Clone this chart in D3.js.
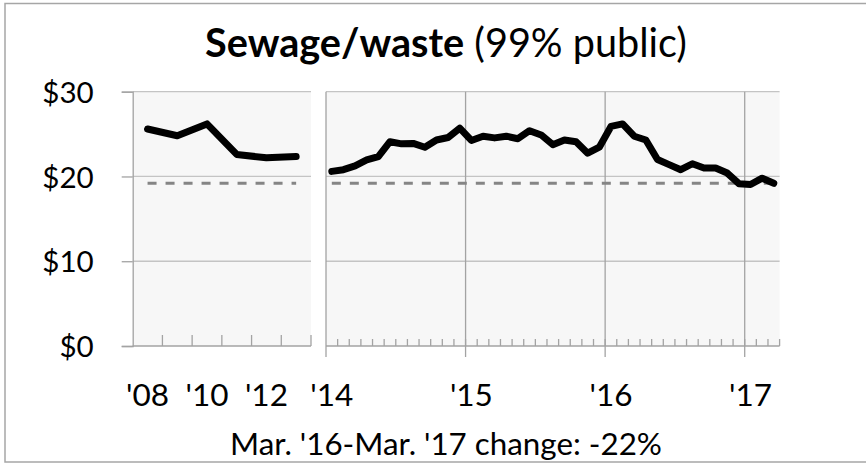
<!DOCTYPE html>
<html>
<head>
<meta charset="utf-8">
<script src="https://cdn.jsdelivr.net/npm/d3@7"></script>
<style>
  body { margin: 0; background: #fff; }
  svg text { font-family: Lato, "Open Sans", sans-serif; fill: #000; }
</style>
</head>
<body>
<div id="chart"></div>
<script>
// annual averages, 2008-2013
const annualYears = [2008, 2009, 2010, 2011, 2012, 2013];
const annualCost = [25.6, 24.8, 26.2, 22.6, 22.2, 22.35];
const annualTickYears = [2008, 2010, 2012];
const annualTickLabels = ["'08", "'10", "'12"];

// monthly, Jan 2014 - Mar 2017
const monthLabels = [
  'Jan 14', 'Feb 14', 'Mar 14', 'Apr 14', 'May 14', 'Jun 14', 'Jul 14', 'Aug 14', 'Sep 14', 'Oct 14', 'Nov 14', 'Dec 14',
  'Jan 15', 'Feb 15', 'Mar 15', 'Apr 15', 'May 15', 'Jun 15', 'Jul 15', 'Aug 15', 'Sep 15', 'Oct 15', 'Nov 15', 'Dec 15',
  'Jan 16', 'Feb 16', 'Mar 16', 'Apr 16', 'May 16', 'Jun 16', 'Jul 16', 'Aug 16', 'Sep 16', 'Oct 16', 'Nov 16', 'Dec 16',
  'Jan 17', 'Feb 17', 'Mar 17'
];
const monthlyCost = [
  20.6, 20.8, 21.25, 21.95, 22.35, 24.1, 23.85, 23.9, 23.45, 24.3, 24.6, 25.7,
  24.25, 24.75, 24.55, 24.75, 24.45, 25.4, 24.9, 23.75, 24.3, 24.1, 22.75, 23.45,
  25.9, 26.2, 24.75, 24.3, 22.0, 21.4, 20.8, 21.5, 21.0, 21.0, 20.4, 19.15,
  19.05, 19.8, 19.2
];
const monthTickKeys = ['Jan 14', 'Jan 15', 'Jan 16', 'Jan 17'];
const monthTickLabels = ["'14", "'15", "'16", "'17"];

const yTicks = [0, 10, 20, 30];
const titleBold = 'Sewage/waste';
const titleRest = ' (99% public)';
const footnote = "Mar. '16-Mar. '17 change: -22%";

// latest value, drawn as dashed reference in both panels
const refValue = monthlyCost[monthlyCost.length - 1];

const width = 866, height = 465;
const gridColor = '#c4c4c4', axisColor = '#a3a3a3', panelFill = '#f7f7f7';

const svg = d3.select('#chart').append('svg')
  .attr('width', width)
  .attr('height', height);

// outer frame (runs past the right edge in the original)
svg.append('rect')
  .attr('x', 5).attr('y', 3.5)
  .attr('width', 900).attr('height', 458.5)
  .attr('fill', '#fff')
  .attr('stroke', '#a6a6a6')
  .attr('stroke-width', 1.5);

const y = d3.scaleLinear().domain([0, 30]).range([346, 91.7]);
const xL = d3.scaleBand().domain(annualYears).range([132.7, 311]);
const xR = d3.scaleBand().domain(monthLabels).range([326, 779.6]);

// grow/shrink font so text hits a measured width
function fitText(sel, targetWidth) {
  const w = sel.node().getComputedTextLength();
  const fs = parseFloat(sel.attr('font-size')) * targetWidth / w;
  sel.attr('font-size', fs);
  return fs;
}

// panel backgrounds
[[132.7, 311], [326, 779.6]].forEach(r => {
  svg.append('rect')
    .attr('x', r[0]).attr('y', y(30))
    .attr('width', r[1] - r[0]).attr('height', y(0) - y(30))
    .attr('fill', panelFill);
});

// horizontal gridlines
[[132.7, 311], [326, 779.6]].forEach(r => {
  svg.append('g').selectAll('line')
    .data(yTicks.filter(d => d > 0))
    .enter().append('line')
    .attr('x1', r[0]).attr('x2', r[1])
    .attr('y1', d => y(d)).attr('y2', d => y(d))
    .attr('stroke', gridColor).attr('stroke-width', 1.3);
});

// vertical gridlines at year starts (right panel)
svg.append('g').selectAll('line')
  .data(monthTickKeys.slice(1))
  .enter().append('line')
  .attr('x1', d => xR(d)).attr('x2', d => xR(d))
  .attr('y1', y(30)).attr('y2', y(0) + 11)
  .attr('stroke', axisColor).attr('stroke-width', 1.3);

// y axis (left panel)
const yAxis = svg.append('g')
  .attr('transform', 'translate(132.7,0)')
  .call(d3.axisLeft(y).tickValues(yTicks).tickSize(11).tickPadding(28)
    .tickFormat(d => '$' + d));
yAxis.select('.domain').attr('stroke', axisColor).attr('stroke-width', 1.3);
yAxis.selectAll('.tick line').attr('stroke', axisColor).attr('stroke-width', 1.3);
const yLab = yAxis.selectAll('.tick text')
  .attr('font-size', 30).attr('font-family', null).attr('dy', '0.36em');
const yfs = fitText(yAxis.select('.tick:last-of-type text'), 51.5);
yLab.attr('font-size', yfs);

// right panel y axis line
svg.append('line')
  .attr('x1', 326).attr('x2', 326)
  .attr('y1', y(30)).attr('y2', y(0) + 11)
  .attr('stroke', axisColor).attr('stroke-width', 1.3);

// left x axis with inward ticks at band edges
svg.append('line')
  .attr('x1', 132.7).attr('x2', 311)
  .attr('y1', y(0)).attr('y2', y(0))
  .attr('stroke', axisColor).attr('stroke-width', 1.3);
svg.append('g').selectAll('line')
  .data(annualYears)
  .enter().append('line')
  .attr('x1', d => xL(d) + xL.bandwidth()).attr('x2', d => xL(d) + xL.bandwidth())
  .attr('y1', y(0)).attr('y2', y(0) - 11)
  .attr('stroke', axisColor).attr('stroke-width', 1.3);

// right x axis with small inward month ticks
svg.append('line')
  .attr('x1', 326).attr('x2', 779.6)
  .attr('y1', y(0)).attr('y2', y(0))
  .attr('stroke', axisColor).attr('stroke-width', 1.3);
svg.append('g').selectAll('line')
  .data(monthLabels)
  .enter().append('line')
  .attr('x1', d => xR(d) + xR.bandwidth()).attr('x2', d => xR(d) + xR.bandwidth())
  .attr('y1', y(0)).attr('y2', y(0) - 7)
  .attr('stroke', axisColor).attr('stroke-width', 1.3);

// x labels
const xLabL = svg.append('g').selectAll('text')
  .data(annualTickYears)
  .enter().append('text')
  .attr('x', d => xL(d) + xL.bandwidth() / 2)
  .attr('y', 405.7)
  .attr('text-anchor', 'middle')
  .attr('font-size', 30)
  .text((d, i) => annualTickLabels[i]);
const xfs = fitText(xLabL.filter((d, i) => i === 0), 43);
xLabL.attr('font-size', xfs);
svg.append('g').selectAll('text')
  .data(monthTickKeys)
  .enter().append('text')
  .attr('x', d => xR(d) + xR.bandwidth() / 2)
  .attr('y', 405.7)
  .attr('text-anchor', 'middle')
  .attr('font-size', xfs)
  .text((d, i) => monthTickLabels[i]);

// dashed reference at latest value
const dash = d3.line().x(d => d[0]).y(d => y(d[1]));
svg.append('path')
  .attr('d', dash([[xL(annualYears[0]) + xL.bandwidth() / 2, refValue],
    [xL(annualYears[annualYears.length - 1]) + xL.bandwidth() / 2, refValue]]))
  .attr('stroke', '#858585').attr('stroke-width', 2.8)
  .attr('stroke-dasharray', '9,9').attr('fill', 'none');
svg.append('path')
  .attr('d', dash([[xR(monthLabels[0]) + xR.bandwidth() / 2, refValue],
    [xR(monthLabels[monthLabels.length - 1]) + xR.bandwidth() / 2, refValue]]))
  .attr('stroke', '#858585').attr('stroke-width', 2.8)
  .attr('stroke-dasharray', '9,9').attr('fill', 'none');

// cost lines
const lineL = d3.line()
  .x((d, i) => xL(annualYears[i]) + xL.bandwidth() / 2)
  .y(d => y(d));
const lineR = d3.line()
  .x((d, i) => xR(monthLabels[i]) + xR.bandwidth() / 2)
  .y(d => y(d));
[[lineL, annualCost], [lineR, monthlyCost]].forEach(([gen, data]) => {
  svg.append('path')
    .datum(data)
    .attr('d', gen)
    .attr('fill', 'none')
    .attr('stroke', '#000')
    .attr('stroke-width', 7)
    .attr('stroke-linejoin', 'round')
    .attr('stroke-linecap', 'round');
});

// title
const title = svg.append('text')
  .attr('x', 446).attr('y', 57)
  .attr('text-anchor', 'middle')
  .attr('font-size', 32);
title.append('tspan').attr('font-weight', 'bold').text(titleBold);
title.append('tspan').text(titleRest);
fitText(title, 482);

// footnote
const note = svg.append('text')
  .attr('x', 446).attr('y', 455)
  .attr('text-anchor', 'middle')
  .attr('font-size', 26)
  .text(footnote);
fitText(note, 432);
</script>
</body>
</html>
